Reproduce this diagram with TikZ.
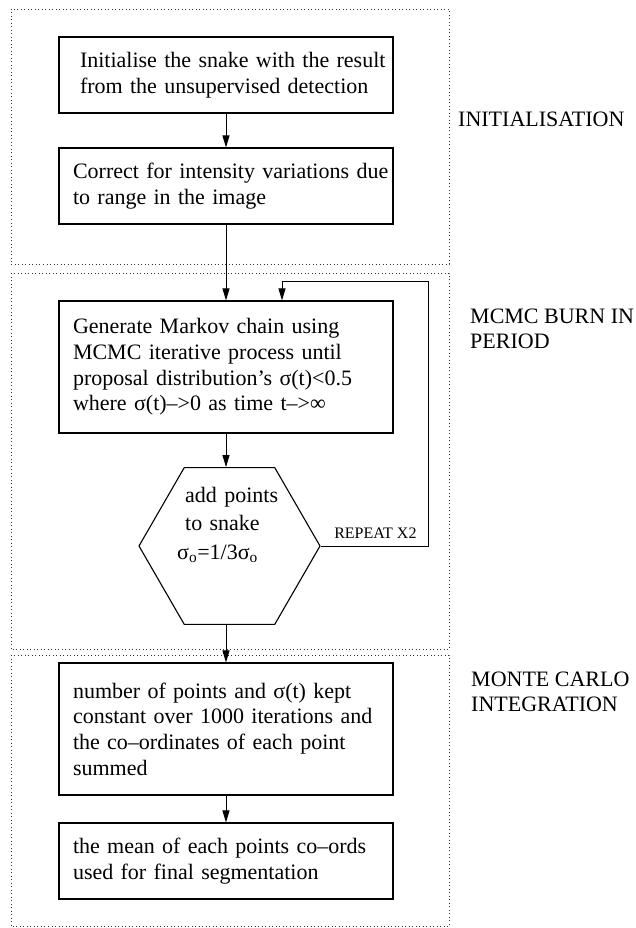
\documentclass[tikz,border=0pt]{standalone}
\usepackage{fontspec}
\setmainfont{Liberation Serif}
\usetikzlibrary{shapes.geometric, arrows.meta, positioning}

\begin{document}
\begin{tikzpicture}[x=1pt, y=-1pt,
    box/.style={rectangle, draw=black, line width=1.1pt, inner xsep=0pt, inner ysep=0pt, text width=334pt, minimum height=76pt, font=\fontsize{22}{25.7}\selectfont, execute at begin node={\leftskip=14pt\rightskip=0pt plus 1fil\parfillskip=0pt plus 1fil\hyphenpenalty=10000\exhyphenpenalty=10000\relax}},
    boxwide/.style={box, execute at begin node={\leftskip=21pt\relax}},
    hexa/.style={regular polygon, regular polygon sides=6, draw=black, line width=1.1pt, minimum size=181pt, inner sep=0pt},
    hextext/.style={inner sep=0pt, text width=110pt, font=\fontsize{22}{28.5}\selectfont, execute at begin node={\leftskip=8pt\rightskip=0pt plus 1fil\parfillskip=0pt plus 1fil\hyphenpenalty=10000\relax}},
    zone/.style={draw=black!80, line width=0.9pt, dash pattern=on 0.9pt off 2.6pt},
    zonelbl/.style={align=left, inner sep=0pt, font=\fontsize{22}{25}\selectfont},
    arr/.style={-{Triangle[length=12pt, width=7pt]}, line width=1pt}
]
    \useasboundingbox (0,0) rectangle (636,928);

    % dotted zones
    \draw[zone] (11,9) rectangle (449,264);
    \draw[zone] (11,273) rectangle (449,649);
    \draw[zone] (11,655) rectangle (449,926);

    % zone labels (base = last line)
    \node[zonelbl, anchor=base west] (lblinit) at (458,127) {INITIALISATION};
    \node[zonelbl, anchor=base west] (lblburn) at (470,348) {MCMC BURN IN\\PERIOD};
    \node[zonelbl, anchor=base west] (lblmc) at (471,711) {MONTE CARLO\\INTEGRATION};

    % steps
    \node[boxwide] (init) at (226,75) {Initialise the snake with the result\\from the unsupervised detection};
    \node[box] (range) at (226,186) {Correct for intensity variations due\\to range in the image};
    \node[box, minimum height=132pt] (chain) at (226,367) {Generate Markov chain using\\MCMC iterative process until\\proposal distribution’s σ(t)<0.5\\where σ(t)--{}>0 as time t--{}>∞};
    \node[hexa] (hex) at (229.5,546) {};
    \node[hextext, anchor=north west] (hexnote) at (177,487) {add points\\to snake\\\hspace*{-8pt}σ\textsubscript{o}=1/3σ\textsubscript{o}};
    \node[box, minimum height=132pt] (sum) at (226,729) {number of points and σ(t) kept\\constant over 1000 iterations and\\the co--ordinates of each point\\summed};
    \node[box] (mean) at (226,861) {the mean of each points co--ords\\used for final segmentation};

    \coordinate (loopturn) at (428,281);

    % main flow
    \draw[arr] (init) -- (range);
    \draw[arr] (range) -- (chain);
    \draw[arr] (chain.south) -- (chain.south |- hex.north);
    \draw[arr] (chain.south |- hex.south) -- (sum.north);
    \draw[arr] (sum) -- (mean);

    % repeat loop
    \draw[arr] (hex.east) -- (hex.east -| loopturn)
        node[anchor=base east, xshift=-11pt, yshift=8pt, inner sep=0pt, font=\fontsize{16}{18}\selectfont] {REPEAT X2}
        -- (loopturn) -| ([xshift=56pt]chain.north);
\end{tikzpicture}
\end{document}
